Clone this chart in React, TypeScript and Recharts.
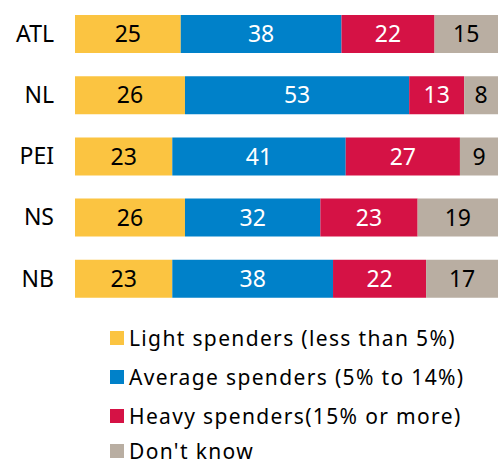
import React from 'react';
import { BarChart, Bar, XAxis, YAxis, Legend, LabelList } from 'recharts';

const regions = ['ATL', 'NL', 'PEI', 'NS', 'NB'];
const light = [25, 26, 23, 26, 23];
const average = [38, 53, 41, 32, 38];
const heavy = [22, 13, 27, 23, 22];
const dontKnow = [15, 8, 9, 19, 17];

const seriesNames = [
  'Light spenders (less than 5%)',
  'Average spenders (5% to 14%)',
  'Heavy spenders(15% or more)',
  "Don't know",
];
const colors = ['#FBC441', '#0081C9', '#D51245', '#B9AEA2'];
const labelColors = ['#000000', '#ffffff', '#ffffff', '#000000'];
const keys = ['light', 'average', 'heavy', 'dontKnow'];

const data = regions.map((r, i) => ({
  region: r,
  light: light[i],
  average: average[i],
  heavy: heavy[i],
  dontKnow: dontKnow[i],
}));

const FONT = '"Noto Sans", sans-serif';

const LegendContent = () => (
  <div style={{ fontFamily: FONT }}>
    {seriesNames.map((n, i) => (
      <div
        key={n}
        style={{ display: 'flex', alignItems: 'center', height: i === 3 ? 22 : 39, marginTop: i === 3 ? 5 : 0, whiteSpace: 'nowrap' }}
      >
        <span style={{ display: 'inline-block', width: 14, height: 14, background: colors[i], marginRight: 5, flexShrink: 0 }} />
        <span style={{ fontSize: 21, color: '#000', letterSpacing: 1.35, lineHeight: '22px' }}>{n}</span>
      </div>
    ))}
  </div>
);

export default function App() {
  return (
    <div style={{ position: 'absolute', left: 0, top: 0, background: '#fff' }}>
      <BarChart
        width={498}
        height={466}
        data={data}
        layout="vertical"
        margin={{ top: 3, right: 0, left: 0, bottom: 13 }}
        barSize={38}
      >
        <XAxis type="number" domain={[0, 100]} hide />
        <YAxis
          type="category"
          dataKey="region"
          width={75}
          axisLine={false}
          tickLine={false}
          tickMargin={15}
          tick={{ fontSize: 23, fill: '#000', fontFamily: FONT }}
        />
        {keys.map((k, i) => (
          <Bar key={k} dataKey={k} name={seriesNames[i]} stackId="a" fill={colors[i]} isAnimationActive={false}>
            <LabelList
              dataKey={k}
              position="center"
              fill={labelColors[i]}
              style={{ fontSize: 23, fontFamily: FONT }}
            />
          </Bar>
        ))}
        <Legend
          content={<LegendContent />}
          wrapperStyle={{ position: 'absolute', left: 110, top: 318, width: 388, height: 144 }}
        />
      </BarChart>
    </div>
  );
}
